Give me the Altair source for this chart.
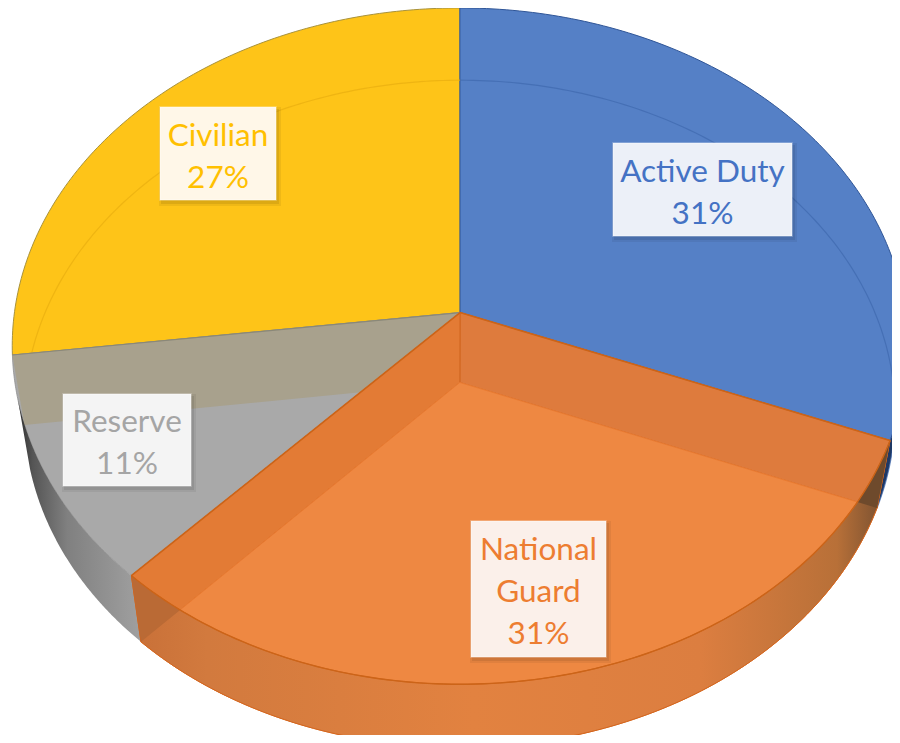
import numpy as np
import pandas as pd
import altair as alt

# ---- chart data ----
labels = ["Active Duty", "National Guard", "Reserve", "Civilian"]
shares = [31, 31, 11, 27]
pct_text = ["31%", "31%", "11%", "27%"]
label_lines = [["Active Duty"], ["National", "Guard"], ["Reserve"], ["Civilian"]]

# ---- styles ----
face = {"Active Duty": "#5580C6", "National Guard": "#EE8842", "Reserve": "#A9A9A9", "Civilian": "#FEC418"}
ink = {"Active Duty": "#4472C4", "National Guard": "#ED7D31", "Reserve": "#A5A5A5", "Civilian": "#FFC000"}
card = {"Active Duty": "#ECF0F8", "National Guard": "#FBF0EA", "Reserve": "#F4F4F4", "Civilian": "#FFF7E8"}
FONT = "Lato"
FONT_SIZE = 31.5

# ---- label-card layout (pixel positions in the picture) ----
cards = {
    "Active Duty": (613, 792, 143, 236),
    "National Guard": (471, 606, 521, 657),
    "Reserve": (63, 191, 394, 486),
    "Civilian": (160, 276, 107, 200),
}
LINE_GAP = 42
TEXT_DROP = 4

# ---- cumulative angles ----
cum = np.cumsum([0] + shares) / sum(shares) * 2 * np.pi
A0, A1, A2, A3, A4 = cum


def fit_projection(pairs):
    """Perspective map of the unit disc (s, c) to the picture, least squares."""
    rows, rhs = [], []
    for (a, r), (px, py) in pairs:
        s, c = r * np.sin(a), r * np.cos(a)
        rows.append([s, c, 1, 0, 0, 0, -px * s, -px * c]); rhs.append(px)
        rows.append([0, 0, 0, s, c, 1, -py * s, -py * c]); rhs.append(py)
    h = np.linalg.lstsq(np.array(rows), np.array(rhs), rcond=None)[0]
    return h


def proj(h, a, r=1.0):
    a = np.asarray(a, dtype=float)
    s, c = r * np.sin(a), r * np.cos(a)
    w = h[6] * s + h[7] * c + 1
    return (h[0] * s + h[1] * c + h[2]) / w, (h[3] * s + h[4] * c + h[5]) / w


TOP = fit_projection([
    ((A0, 1), (460, 8)), ((A1, 1), (890, 440)), ((A2, 1), (132, 575)), ((A3, 1), (12, 355)),
    ((0, 0), (460, 313)), ((np.pi, 1), (460, 685)),
])
BOT = fit_projection([
    ((A0, 1), (460, 80)), ((A1, 1), (877, 508)), ((A2, 1), (140, 642)), ((A3, 1), (25, 425)),
    ((0, 0), (460, 383)), ((np.pi, 1), (460, 747)),
])


def arc(h, a, b, n=120):
    x, y = proj(h, np.linspace(a, b, n))
    return list(zip(x, y))


def centre(h):
    x, y = proj(h, 0.0, 0.0)
    return [(float(x), float(y))]


def sector(h, a, b):
    return centre(h) + arc(h, a, b) + centre(h)


def band(a, b):
    pts = arc(TOP, a, b) + arc(BOT, b, a)
    return pts + pts[:1]


def radial_wall(a):
    p = centre(TOP) + arc(TOP, a, a, 2) + arc(BOT, a, a, 2) + centre(BOT)
    return p + p[:1]


def crossing(a, lo, hi):
    """Angle on the top rim where the bottom radial edge at angle a crosses it."""
    cx, cy = centre(BOT)[0]
    ex, ey = proj(BOT, a)
    grid = np.linspace(lo, hi, 2000)
    x, y = proj(TOP, grid)
    return grid[np.argmin(np.abs((ex - cx) * (y - cy) - (ey - cy) * (x - cx)))]


xs = alt.Scale(domain=[8, 892], range=[0, 884], nice=False, zero=False)
ys = alt.Scale(domain=[8, 735], range=[0, 727], nice=False, zero=False)
X = alt.X("x:Q", scale=xs, axis=None)
Y = alt.Y("y:Q", scale=ys, axis=None)


def frame(pts):
    return pd.DataFrame({"x": [float(p[0]) for p in pts], "y": [float(p[1]) for p in pts], "i": range(len(pts))})


def poly(pts, fill, stroke=None, sw=0.0, opacity=1.0):
    kw = dict(fill=fill, strokeWidth=sw, opacity=opacity, clip=False, interpolate="linear")
    kw["stroke"] = stroke if stroke else "transparent"
    return alt.Chart(frame(pts)).mark_line(**kw).encode(x=X, y=Y, order="i:Q")


def line(pts, stroke, sw=1.0, opacity=1.0):
    return alt.Chart(frame(pts)).mark_line(stroke=stroke, strokeWidth=sw, opacity=opacity).encode(x=X, y=Y, order="i:Q")


def grad(stops):
    return {"gradient": "linear", "x1": 0, "x2": 1, "y1": 0, "y2": 0,
            "stops": [{"offset": o, "color": c} for o, c in stops]}


cross_l = crossing(A2, A1 + 1.4, A2)
cross_r = crossing(A1, A1, A1 + 1.0)

layers = [
    # dark outer wall of the blue slice, right edge
    poly(band(A1 - 0.45, A1), "#1F3864"),
    # top faces, back slices
    poly(sector(TOP, A3, A4), face["Civilian"], "#A8923C", 1.0),
    poly(sector(TOP, A0, A1), face["Active Duty"], "#2F5597", 1.0),
    # ghost rim of the floor seen through them
    line(arc(BOT, A3, A4), "#E8AE10", 1.2, 0.7),
    line(arc(BOT, A0, A1), "#3F68AE", 1.2, 0.7),
    # reserve slice: floor + civilian wall seen through it + outer wall
    poly(sector(TOP, A2, A3), face["Reserve"], "#8F8F8F", 0.8),
    poly(radial_wall(A3), "#A8A18D"),
    poly(band(A2, A3 - 0.13), grad([(0, "#2E2E2E"), (0.12, "#555555"), (0.4, "#808080"), (1, "#A0A0A0")])),
    line(centre(TOP) + arc(TOP, A3, A3, 2), "#8A8878", 1.2),
    # national guard slice: inner walls, floor, front wall
    poly(radial_wall(A1), "#DE7B3D", "#D2661F", 1.0),
    poly(radial_wall(A2), "#E37B35", "#D2661F", 1.0),
    poly(sector(BOT, A1, A2), face["National Guard"], "#E97B32", 1.0),
    poly(band(A1, A2), grad([(0, "#C87038"), (0.1, "#D27A3E"), (0.45, "#E28240"),
                             (0.75, "#DC7E40"), (0.93, "#B87038"), (1, "#704C30")]), "#D2661F", 1.0),
    poly(arc(TOP, cross_l, A2) + arc(BOT, A2, A2, 2), "#BA6A35"),
    poly(arc(TOP, A1, cross_r) + arc(BOT, A1, A1, 2), "#6E4A2C"),
    line(arc(TOP, A1, A2), "#CC6418", 1.4),
    line(centre(TOP) + arc(TOP, A1, A1, 2), "#CC6418", 1.6),
    line(centre(TOP) + arc(TOP, A2, A2, 2), "#CC6418", 1.6),
]

# label cards
rows = []
text_rows = []
for name, pct, lines in zip(labels, pct_text, label_lines):
    x0, x1, y0, y1 = cards[name]
    rows.append({"name": name, "x": x0, "x2": x1, "y": y0, "y2": y1})
    all_lines = lines + [pct]
    mid = (y0 + y1) / 2 + TEXT_DROP
    for j, t in enumerate(all_lines):
        text_rows.append({"name": name, "t": t, "x": (x0 + x1) / 2, "y": mid + (j - (len(all_lines) - 1) / 2) * LINE_GAP})
card_df = pd.DataFrame(rows)
text_df = pd.DataFrame(text_rows)
names = labels

# soft drop shadow: two nested translucent rectangles
for grow, alpha in ((3, 0.06), (1, 0.08)):
    shadow = pd.DataFrame([{"x": r["x"] + 2 - grow, "x2": r["x2"] + 2 + grow,
                            "y": r["y"] + 3 - grow, "y2": r["y2"] + 3 + grow} for r in rows])
    layers.append(alt.Chart(shadow).mark_rect(color="#000000", opacity=alpha).encode(x=X, x2="x2:Q", y=Y, y2="y2:Q"))
layers.append(alt.Chart(card_df).mark_rect(strokeWidth=1.5, stroke="#FFFFFF", strokeOpacity=0.35).encode(
    x=X, x2="x2:Q", y=Y, y2="y2:Q",
    fill=alt.Fill("name:N", scale=alt.Scale(domain=names, range=[card[n] for n in names]), legend=None),
))
layers.append(alt.Chart(text_df).mark_text(font=FONT, fontSize=FONT_SIZE, align="center", baseline="middle").encode(
    x=X, y=Y, text="t:N",
    color=alt.Color("name:N", scale=alt.Scale(domain=names, range=[ink[n] for n in names]), legend=None),
))

chart = (
    alt.layer(*layers)
    .resolve_scale(color="independent")
    .properties(width=884, height=727, padding=0, autosize="none", background="#FFFFFF")
    .configure_view(strokeWidth=0)
)
chart.save("out.html", embed_options={"renderer": "svg", "actions": False})
